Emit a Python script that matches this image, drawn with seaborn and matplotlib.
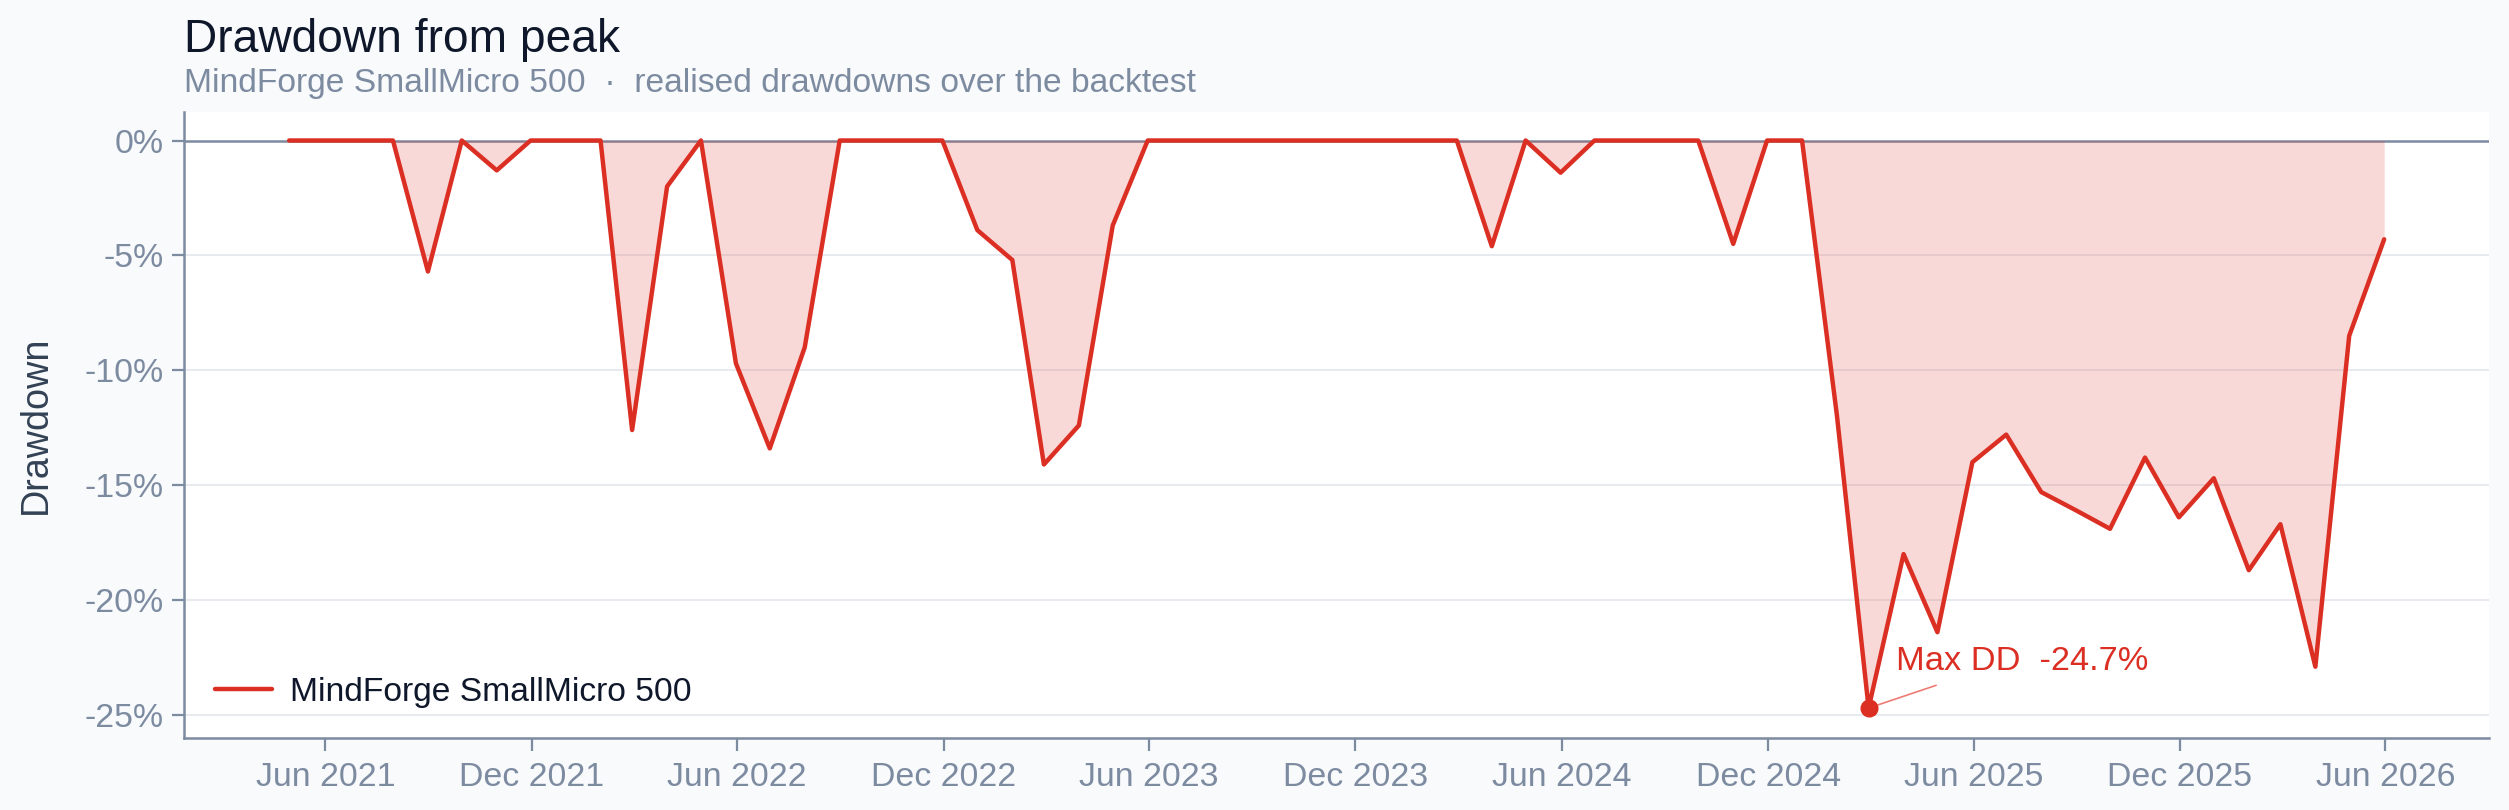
import pandas as pd
import seaborn as sns
import matplotlib.pyplot as plt
import matplotlib.dates as mdates
from matplotlib.ticker import FuncFormatter

# Monthly drawdown (%), month-end dates
start_month = '2021-04-30'
drawdown = [
    0, 0, 0, 0, -5.7, 0, -1.3, 0, 0, 0,
    -12.6, -2.0, 0, -9.7, -13.4, -9.0, 0, 0, 0, 0,
    -3.9, -5.2, -14.1, -12.4, -3.7, 0, 0, 0, 0, 0,
    0, 0, 0, 0, 0, -4.6, 0, -1.4, 0, 0,
    0, 0, -4.5, 0, 0, -12.0, -24.7, -18.0, -21.4, -14.0,
    -12.8, -15.3, -16.1, -16.9, -13.8, -16.4, -14.7, -18.7, -16.7, -22.9,
    -8.5, -4.3,
]
series_name = 'MindForge SmallMicro 500'
y_ticks = [0, -5, -10, -15, -20, -25]

dates = pd.date_range(start_month, periods=len(drawdown), freq='ME')
df = pd.DataFrame({'Date': dates, 'Drawdown': drawdown})

RED = '#dc2f24'
SLATE = '#7d8ba1'
GRID = '#e7ebf0'

sns.set_theme(style='white')
plt.rcParams['font.family'] = ['Liberation Sans', 'DejaVu Sans']
plt.rcParams['axes.unicode_minus'] = False

fig = plt.figure(figsize=(12.545, 4.05), dpi=200, facecolor='#f8fafc')
ax = fig.add_axes([0.0735, 0.089, 0.9185, 0.773])
ax.set_facecolor('white')

# light grid + zero line
for t in y_ticks[1:]:
    ax.axhline(t, color=GRID, lw=0.7, zorder=0)
ax.axhline(0, color=SLATE, lw=0.9, zorder=1)

ax.fill_between(df['Date'], df['Drawdown'], 0, color=RED, alpha=0.18, lw=0, zorder=2)
sns.lineplot(data=df, x='Date', y='Drawdown', color=RED, lw=1.6, label=series_name, ax=ax, zorder=3)

# max drawdown marker
i_min = df['Drawdown'].idxmin()
x_min, y_min = df.loc[i_min, 'Date'], df.loc[i_min, 'Drawdown']
ax.plot([x_min], [y_min], 'o', color=RED, ms=5.5, zorder=4)
ax.annotate(f'Max DD  {y_min:.1f}%', xy=(x_min, y_min), xytext=(10, 11),
            textcoords='offset points', ha='left', va='bottom', color=RED, fontsize=12.4,
            arrowprops=dict(arrowstyle='-', color='#ee7b74', lw=0.6, relpos=(0.25, 0),
                            shrinkA=2, shrinkB=3))

ax.set_ylim(-26, 1.25)
ax.set_yticks(y_ticks)
ax.yaxis.set_major_formatter(FuncFormatter(lambda v, _: f'{v:.0f}%'))
ax.xaxis.set_major_locator(mdates.MonthLocator(bymonth=[6, 12]))
ax.xaxis.set_major_formatter(mdates.DateFormatter('%b %Y'))
ax.margins(x=0.05)

for s in ['top', 'right']:
    ax.spines[s].set_visible(False)
for s in ['left', 'bottom']:
    ax.spines[s].set_color(SLATE)
    ax.spines[s].set_linewidth(0.9)
ax.tick_params(axis='both', colors=SLATE, labelcolor=SLATE, labelsize=12.2,
               length=4.5, width=0.8, direction='out')
ax.tick_params(axis='x', pad=4, bottom=True)
ax.tick_params(axis='y', pad=3, left=True)

ax.set_xlabel('')
ax.set_ylabel('Drawdown', color='#334155', fontsize=13.6, labelpad=11)

leg = ax.legend(loc='lower left', frameon=False, fontsize=12.1, handlelength=1.7,
                handletextpad=0.55)
for txt in leg.get_texts():
    txt.set_color('#0f172a')

fig.text(0.0735, 0.936, 'Drawdown from peak', fontsize=16.6, color='#0f172a', ha='left', va='baseline')
fig.text(0.0735, 0.886, f'{series_name}  ·  realised drawdowns over the backtest',
         fontsize=12.1, color=SLATE, ha='left', va='baseline')

fig.savefig('out.png', dpi=200, facecolor=fig.get_facecolor())
